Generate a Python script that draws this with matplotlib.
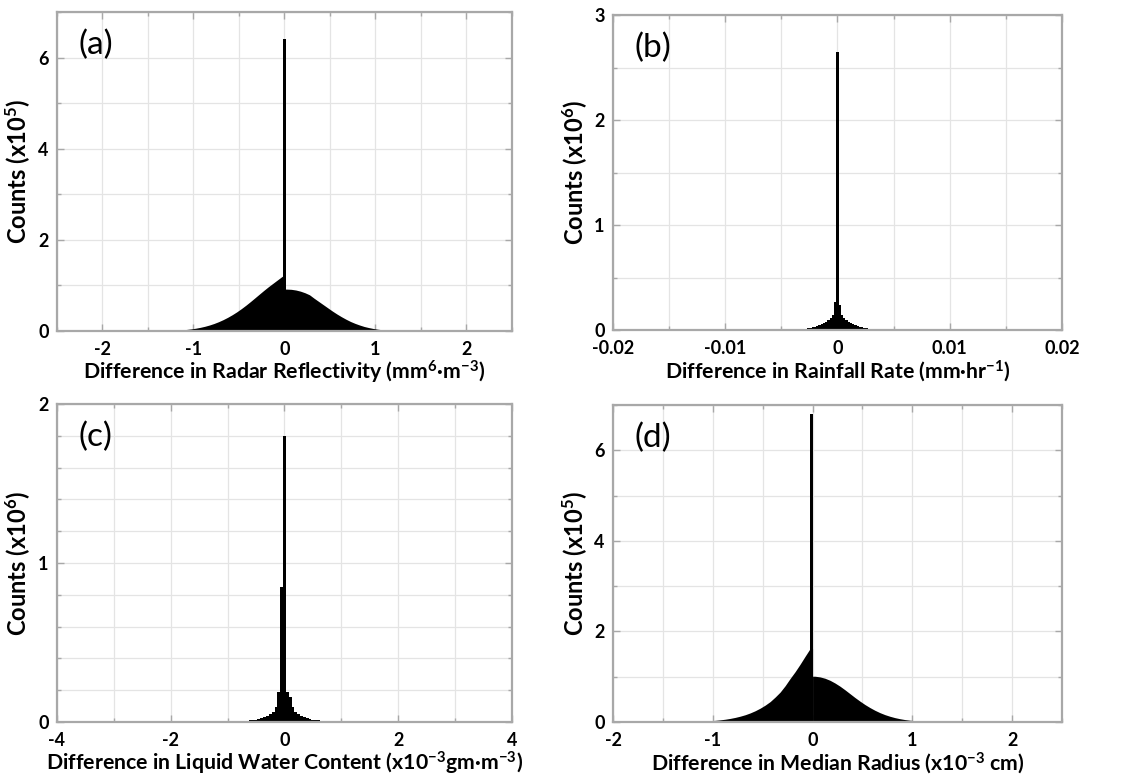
import numpy as np
import matplotlib
matplotlib.use("Agg")
import matplotlib.pyplot as plt
from matplotlib.ticker import MultipleLocator, FormatStrFormatter

plt.rcParams['font.family'] = ['Lato', 'DejaVu Sans']
plt.rcParams['axes.unicode_minus'] = False
plt.rcParams['mathtext.fontset'] = 'custom'
plt.rcParams['mathtext.rm'] = 'Lato:bold'
plt.rcParams['mathtext.it'] = 'Lato:bold'
plt.rcParams['mathtext.bf'] = 'Lato:bold'

# ---- (a) radar reflectivity, counts x1e5, bins of 0.05 from -1.5 to 1.5
a_edges = np.arange(-1.5, 1.5001, 0.05)
a_counts = [
    0.002, 0.003, 0.005, 0.007, 0.010, 0.014, 0.019, 0.026, 0.035, 0.047,
    0.062, 0.081, 0.104, 0.132, 0.165, 0.204, 0.249, 0.300, 0.357, 0.420,
    0.490, 0.565, 0.645, 0.728, 0.812, 0.895, 0.975, 1.050, 1.125, 1.200,
    0.920, 0.915, 0.900, 0.875, 0.840, 0.795, 0.720, 0.650, 0.580, 0.510,
    0.440, 0.375, 0.315, 0.260, 0.210, 0.168, 0.132, 0.100, 0.076, 0.056,
    0.040, 0.028, 0.019, 0.013, 0.009, 0.006, 0.004, 0.003, 0.002, 0.001,
]
a_spike_x = 0.0
a_spike = 6.4

# ---- (b) rainfall rate, counts x1e6, bins of 0.0002 centred on 0
b_edges = np.arange(-0.0041, 0.00411, 0.0002)
b_counts = [
    0.004, 0.005, 0.006, 0.007, 0.009, 0.011, 0.013, 0.016, 0.020, 0.025,
    0.030, 0.036, 0.044, 0.053, 0.064, 0.078, 0.095, 0.115, 0.140, 0.270,
    2.650,
    0.240, 0.140, 0.115, 0.095, 0.078, 0.064, 0.053, 0.044, 0.036, 0.030,
    0.025, 0.020, 0.016, 0.013, 0.011, 0.009, 0.007, 0.006, 0.005, 0.004,
]

# ---- (c) liquid water content, counts x1e6, bins of 0.05 centred on 0
c_edges = np.arange(-1.025, 1.0251, 0.05)
c_counts = [
    0.001, 0.002, 0.002, 0.003, 0.004, 0.005, 0.006, 0.008, 0.010, 0.012,
    0.015, 0.019, 0.024, 0.030, 0.037, 0.047, 0.062, 0.095, 0.190, 0.850,
    1.800,
    0.190, 0.160, 0.095, 0.062, 0.047, 0.037, 0.030, 0.024, 0.019, 0.015,
    0.012, 0.010, 0.008, 0.006, 0.005, 0.004, 0.003, 0.002, 0.002, 0.001,
]

# ---- (d) median radius, counts x1e5, bins of 0.05 from -1.5 to 1.5
d_edges = np.arange(-1.5, 1.5001, 0.05)
d_counts = [
    0.001, 0.002, 0.003, 0.004, 0.006, 0.008, 0.011, 0.015, 0.020, 0.027,
    0.036, 0.047, 0.061, 0.079, 0.101, 0.128, 0.160, 0.200, 0.248, 0.305,
    0.372, 0.450, 0.550, 0.660, 0.800, 0.960, 1.110, 1.275, 1.450, 1.620,
    1.010, 0.995, 0.965, 0.920, 0.860, 0.790, 0.710, 0.625, 0.540, 0.460,
    0.385, 0.318, 0.258, 0.206, 0.162, 0.126, 0.096, 0.072, 0.053, 0.039,
    0.028, 0.020, 0.014, 0.009, 0.006, 0.004, 0.003, 0.002, 0.001, 0.000,
]
d_spike_x = -0.01
d_spike = 6.8

GRID = '#e4e4e4'
SPINE = '#a8a8a8'


def fill_halves(ax, edges, counts, split):
    """Fill a fine histogram as a smooth area, keeping the jump at the split bin."""
    counts = np.asarray(counts)
    centers = 0.5 * (edges[:-1] + edges[1:])
    mid = edges[split]
    xl = np.r_[centers[:split], mid]
    yl = np.r_[counts[:split], counts[split - 1]]
    xr = np.r_[mid, centers[split:]]
    yr = np.r_[counts[split], counts[split:]]
    ax.fill_between(xl, 0, yl, color='black', lw=0)
    ax.fill_between(xr, 0, yr, color='black', lw=0)


def style_axes(ax, xlim, ylim, xmaj, xmin, ymaj, ymin, xlabel, ylabel, tag):
    ax.set_xlim(*xlim)
    ax.set_ylim(*ylim)
    ax.xaxis.set_major_locator(MultipleLocator(xmaj))
    ax.xaxis.set_minor_locator(MultipleLocator(xmin))
    ax.yaxis.set_major_locator(MultipleLocator(ymaj))
    ax.yaxis.set_minor_locator(MultipleLocator(ymin))
    ax.xaxis.set_major_formatter(FormatStrFormatter('%g'))
    ax.yaxis.set_major_formatter(FormatStrFormatter('%g'))
    ax.grid(True, which='both', color=GRID, linewidth=0.9)
    ax.set_axisbelow(True)
    ax.tick_params(which='both', direction='in', top=True, right=True,
                   color=SPINE, width=1.0)
    ax.tick_params(which='major', length=5, labelsize=13)
    ax.tick_params(axis='y', which='major', pad=6)
    ax.tick_params(axis='x', which='major', pad=7)
    ax.tick_params(which='minor', length=3)
    for lbl in ax.get_xticklabels() + ax.get_yticklabels():
        lbl.set_fontweight('bold')
    for sp in ax.spines.values():
        sp.set_color(SPINE)
        sp.set_linewidth(1.6)
    ax.set_xlabel(xlabel, fontsize=15.3, fontweight='bold', labelpad=1)
    ax.set_ylabel(ylabel, fontsize=17, fontweight='bold')
    ax.yaxis.set_label_coords(-0.052, 0.5)
    ax.text(0.048, 0.945, tag, transform=ax.transAxes, fontsize=24,
            va='top', ha='left')


def main():
    fig = plt.figure(figsize=(11.3, 7.8), dpi=100)
    ax_a = fig.add_axes([0.0504, 0.5756, 0.4027, 0.409])
    ax_b = fig.add_axes([0.5425, 0.5769, 0.3973, 0.4038])
    ax_c = fig.add_axes([0.0504, 0.0744, 0.4027, 0.4077])
    ax_d = fig.add_axes([0.5425, 0.0744, 0.3973, 0.4064])

    # (a)
    fill_halves(ax_a, a_edges, a_counts, 30)
    ax_a.bar(a_spike_x, a_spike, width=0.03, color='black', lw=0)
    style_axes(ax_a, (-2.5, 2.5), (0, 7), 1, 0.5, 2, 1,
               'Difference in Radar Reflectivity (mm$^{6}$∙m$^{-3}$)',
               'Counts (x10$^{5}$)', '(a)')

    # (b)
    ax_b.stairs(b_counts, b_edges, fill=True, color='black', lw=0)
    style_axes(ax_b, (-0.02, 0.02), (0, 3), 0.01, 0.005, 1, 0.5,
               'Difference in Rainfall Rate (mm∙hr$^{-1}$)',
               'Counts (x10$^{6}$)', '(b)')

    # (c)
    ax_c.stairs(c_counts, c_edges, fill=True, color='black', lw=0)
    style_axes(ax_c, (-4, 4), (0, 2), 2, 1, 1, 0.2,
               'Difference in Liquid Water Content (x10$^{-3}$gm∙m$^{-3}$)',
               'Counts (x10$^{6}$)', '(c)')

    # (d)
    fill_halves(ax_d, d_edges, d_counts, 30)
    ax_d.bar(d_spike_x, d_spike, width=0.03, color='black', lw=0)
    style_axes(ax_d, (-2, 2.5), (0, 7), 1, 0.5, 2, 1,
               'Difference in Median Radius (x10$^{-3}$ cm)',
               'Counts (x10$^{5}$)', '(d)')

    fig.savefig('out.png', dpi=100)
    plt.close(fig)


if __name__ == "__main__":
    main()
